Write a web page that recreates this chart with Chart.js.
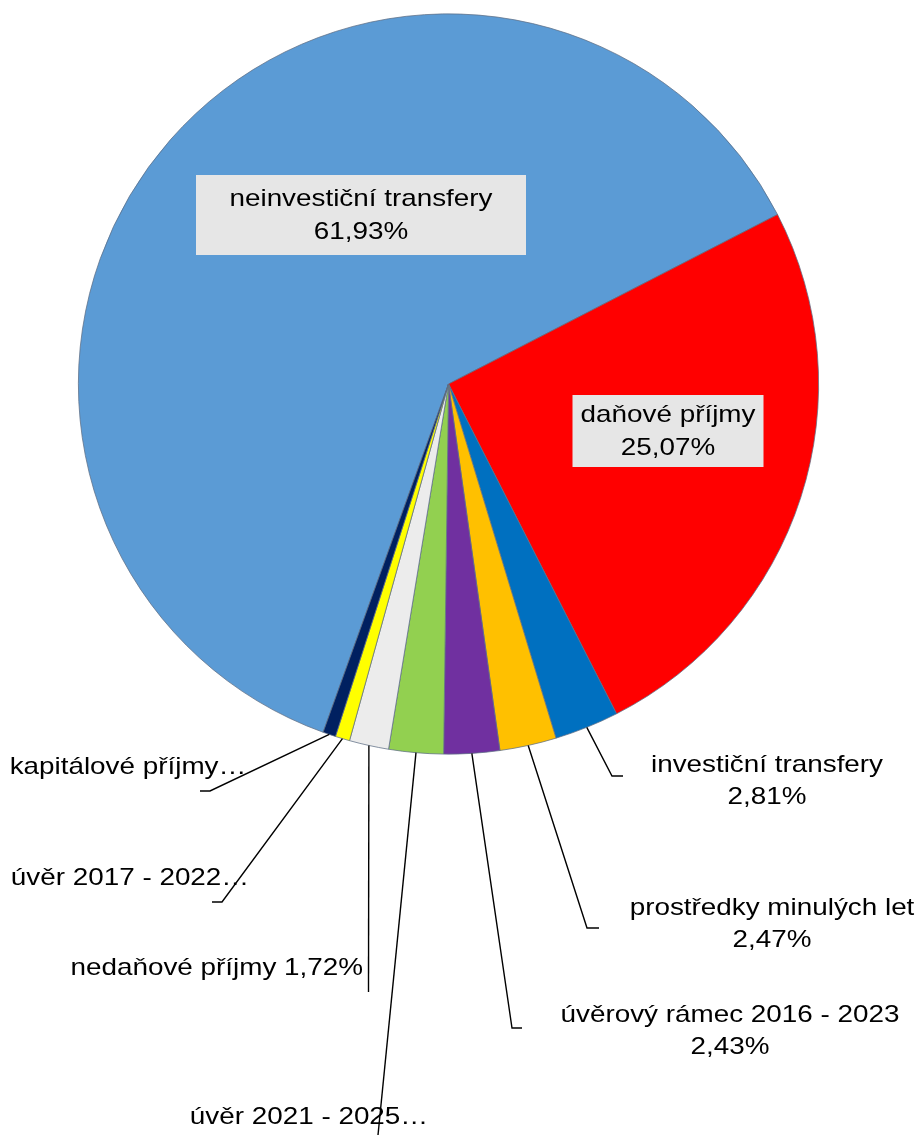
<!DOCTYPE html>
<html>
<head>
<meta charset="utf-8">
<script src="https://cdn.jsdelivr.net/npm/chart.js@4"></script>
<style>
  html, body { margin: 0; padding: 0; background: #fff; }
  canvas { display: block; }
</style>
</head>
<body>
<canvas id="myChart" width="920" height="1135"></canvas>
<script>
    /* Data */

var categories = [
    "neinvestiční transfery",
    "daňové příjmy",
    "investiční transfery",
    "prostředky minulých let",
    "úvěrový rámec 2016 - 2023",
    "úvěr 2021 - 2025",
    "nedaňové příjmy",
    "úvěr 2017 - 2022",
    "kapitálové příjmy"
];
var shares = [61.93, 25.07, 2.81, 2.47, 2.43, 2.38, 1.72, 0.63, 0.56];
var colors = ["#5b9bd5", "#ff0000", "#0070c0", "#ffc000", "#7030a0", "#92d050", "#ececec", "#ffff00", "#002060"];

    /* Label layout (text position, leader elbow, leader end) */

var labelLayout = [
    { kind: "box", cx: 361, cy: 215, w: 330, h: 80 },
    { kind: "box", cx: 668, cy: 431, w: 191, h: 72 },
    { kind: "two", cx: 767, cy: 781, elbow: [612, 776], end: [623, 776] },
    { kind: "two", cx: 772, cy: 924, elbow: [587, 928], end: [599, 928] },
    { kind: "two", cx: 730, cy: 1031, elbow: [512, 1028], end: [522, 1028] },
    { kind: "trunc", cx: 309, cy: 1117, elbow: [378, 1135] },
    { kind: "one", right: 363, cy: 968, elbow: [368.5, 992] },
    { kind: "trunc", cx: 130, cy: 878, elbow: [222, 902], end: [212, 902] },
    { kind: "trunc", cx: 128, cy: 767, elbow: [210, 791], end: [200, 791] }
];

var textStretch = 1.16;

function pct(v) {
    return v.toFixed(2).replace(".", ",") + "%";
}

function drawText(ctx, text, x, y, align) {
    ctx.save();
    ctx.translate(x, y);
    ctx.scale(textStretch, 1);
    ctx.textAlign = align;
    ctx.fillText(text, 0, 0);
    ctx.restore();
}

    /* Plugin for Excel-like data labels */

const pieLabels = {
    id: "pieLabels",
    afterDatasetsDraw(chart) {
        const ctx = chart.ctx;
        const arcs = chart.getDatasetMeta(0).data;
        ctx.save();
        ctx.font = "24px 'Liberation Sans', Arial, sans-serif";
        ctx.fillStyle = "#000";
        ctx.textBaseline = "middle";
        arcs.forEach(function (arc, i) {
            const lay = labelLayout[i];
            const name = categories[i];
            const p = arc.getProps(["x", "y", "startAngle", "endAngle", "outerRadius"], true);
            const mid = (p.startAngle + p.endAngle) / 2;

            if (lay.kind === "box") {
                ctx.fillStyle = "#e6e6e6";
                ctx.fillRect(lay.cx - lay.w / 2, lay.cy - lay.h / 2, lay.w, lay.h);
                ctx.fillStyle = "#000";
                drawText(ctx, name, lay.cx, lay.cy - 16, "center");
                drawText(ctx, pct(shares[i]), lay.cx, lay.cy + 17, "center");
                return;
            }

            // leader line from the rim
            const sx = p.x + Math.cos(mid) * p.outerRadius;
            const sy = p.y + Math.sin(mid) * p.outerRadius;
            ctx.strokeStyle = "#000";
            ctx.lineWidth = 1.4;
            ctx.beginPath();
            ctx.moveTo(sx, sy);
            ctx.lineTo(lay.elbow[0], lay.elbow[1]);
            if (lay.end) ctx.lineTo(lay.end[0], lay.end[1]);
            ctx.stroke();

            if (lay.kind === "two") {
                drawText(ctx, name, lay.cx, lay.cy - 16, "center");
                drawText(ctx, pct(shares[i]), lay.cx, lay.cy + 16, "center");
            } else if (lay.kind === "trunc") {
                drawText(ctx, name + "…", lay.cx, lay.cy, "center");
            } else {
                drawText(ctx, name + " " + pct(shares[i]), lay.right, lay.cy, "right");
            }
        });
        ctx.restore();
    }
};

    /* Chart */

const ctx = document.getElementById("myChart").getContext("2d");

const myChart = new Chart(ctx, {
    type: "pie",
    data: {
        labels: categories,
        datasets: [{
            data: shares,
            backgroundColor: colors,
            borderColor: "#5f6f86",
            borderWidth: 0.75
        }]
    },
    options: {
        responsive: false,
        animation: false,
        rotation: 199.8,
        layout: {
            padding: { left: 78, right: 101, top: 13, bottom: 380 }
        },
        plugins: {
            legend: { display: false },
            tooltip: { enabled: false }
        }
    },
    plugins: [pieLabels]
});
</script>
</body>
</html>
